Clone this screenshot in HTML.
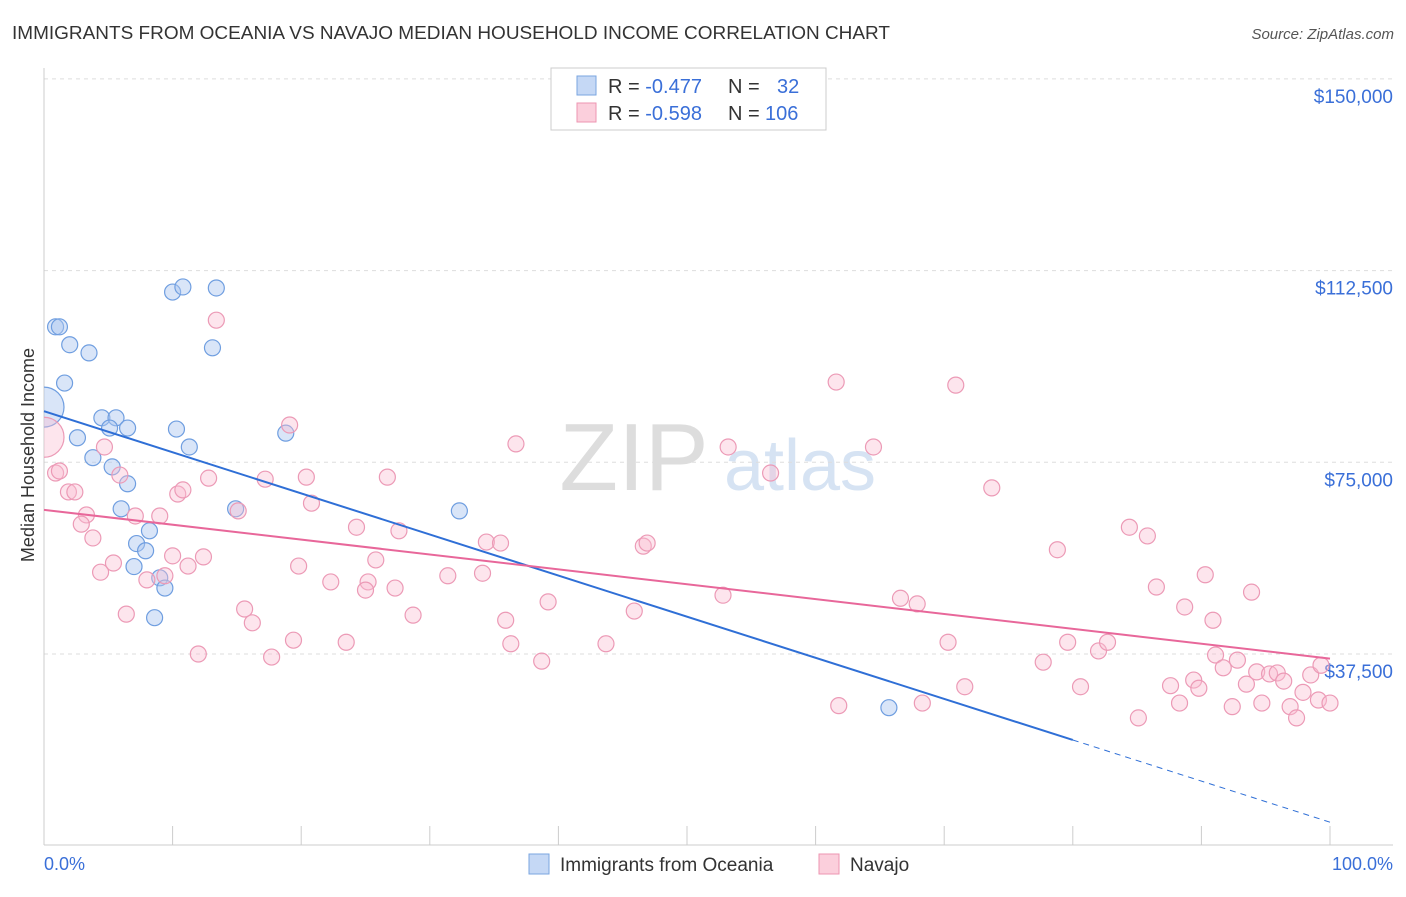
<!DOCTYPE html>
<html><head><meta charset="utf-8"><style>
body{margin:0;background:#fff;font-family:"Liberation Sans",sans-serif;}
svg text{font-family:"Liberation Sans",sans-serif;}
</style></head><body>
<svg id="c" width="1406" height="892">
<defs><clipPath id="pc"><rect x="44" y="60" width="1360" height="786"/></clipPath></defs>
<text x="12" y="39" font-size="18" fill="#333" textLength="878" lengthAdjust="spacingAndGlyphs">IMMIGRANTS FROM OCEANIA VS NAVAJO MEDIAN HOUSEHOLD INCOME CORRELATION CHART</text>
<text x="1394" y="39" font-size="15" fill="#555" font-style="italic" text-anchor="end">Source: ZipAtlas.com</text>
<text x="634" y="490" font-size="96" fill="#ddd" font-family="Liberation Serif" text-anchor="middle">ZIP</text>
<text x="800" y="490" font-size="72" fill="#d6e3f3" text-anchor="middle">atlas</text>
<text transform="translate(34,455) rotate(-90)" font-size="18" fill="#333" text-anchor="middle">Median Household Income</text>
<g id="grid"></g><g id="pts" clip-path="url(#pc)"></g><g id="lines"></g>
<g>
<rect x="551" y="68" width="275" height="62" fill="#fff" stroke="#ccc"/>
<rect x="577" y="76" width="19" height="19" fill="#c5d8f5" stroke="#7aa6e0"/>
<rect x="577" y="103" width="19" height="19" fill="#fbcfdc" stroke="#ee95b2"/>
<text x="608" y="93" font-size="20" fill="#333">R = <tspan fill="#3a6fd8">-0.477</tspan><tspan x="728">N = </tspan><tspan x="777" fill="#3a6fd8">32</tspan></text>
<text x="608" y="120" font-size="20" fill="#333">R = <tspan fill="#3a6fd8">-0.598</tspan><tspan x="728">N = </tspan><tspan x="765" fill="#3a6fd8">106</tspan></text>
</g>
<g>
<rect x="529" y="854" width="20" height="20" fill="#c5d8f5" stroke="#7aa6e0"/>
<text x="560" y="871" font-size="19" fill="#333">Immigrants from Oceania</text>
<rect x="819" y="854" width="20" height="20" fill="#fbcfdc" stroke="#ee95b2"/>
<text x="850" y="871" font-size="19" fill="#333">Navajo</text>
</g>
</svg>
<script>
const yTicks=[37500,75000,112500,150000];
const yTickLabels=["$37,500","$75,000","$112,500","$150,000"];
const xTickLabels=["0.0%","100.0%"];
const blueX=[0.9,1.2,2.0,3.5,1.6,0,4.5,5.6,5.1,6.5,2.6,3.8,5.3,6.5,6.0,7.2,7.9,7.0,9.0,9.4,8.6,8.2,10.0,10.8,13.4,13.1,10.3,11.3,18.8,14.9,32.3,65.7];
const blueY=[101.5,101.5,98.0,96.4,90.5,85.8,83.7,83.7,81.7,81.7,79.8,75.9,74.1,70.8,65.9,59.1,57.7,54.6,52.4,50.4,44.6,61.6,108.3,109.3,109.1,97.4,81.5,78.0,80.7,65.9,65.5,27.0];
const pinkX=[0,0.9,1.2,1.9,2.4,3.3,2.9,3.8,4.4,4.7,5.4,5.9,6.4,7.1,8.0,9.0,9.4,10.0,10.4,10.8,11.2,12.0,12.4,12.8,13.4,15.1,15.6,16.2,17.2,17.7,19.1,19.4,19.8,20.4,20.8,22.3,23.5,24.3,25.2,25.0,25.8,26.7,27.3,27.6,28.7,31.4,34.1,34.4,35.5,35.9,36.3,36.7,38.7,39.2,43.7,45.9,46.6,46.9,52.8,53.2,56.5,61.6,61.8,64.5,66.6,67.9,68.3,70.3,70.9,71.6,73.7,77.7,78.8,79.6,80.6,82.0,82.7,84.4,85.1,85.8,86.5,87.6,88.3,88.7,89.4,89.8,90.3,90.9,91.1,91.7,92.4,92.8,93.5,93.9,94.3,94.7,95.3,95.9,96.4,96.9,97.4,97.9,98.5,99.1,99.3,100];
const pinkY=[79.9,72.9,73.3,69.2,69.2,64.7,62.9,60.2,53.5,78.0,55.3,72.5,45.3,64.5,52.0,64.5,52.8,56.7,68.8,69.6,54.7,37.5,56.5,71.9,102.8,65.5,46.3,43.6,71.7,36.9,82.3,40.2,54.7,72.1,67.0,51.6,39.8,62.3,51.6,50.0,55.9,72.1,50.4,61.6,45.1,52.8,53.3,59.4,59.2,44.1,39.5,78.6,36.1,47.7,39.5,45.9,58.6,59.2,49.0,78.0,72.9,90.7,27.4,78.0,48.4,47.3,27.9,39.8,90.1,31.1,70.0,35.9,57.9,39.8,31.1,38.1,39.8,62.3,25.0,60.6,50.6,31.3,27.9,46.7,32.4,30.8,53.0,44.1,37.3,34.8,27.2,36.3,31.6,49.6,34.0,27.9,33.6,33.8,32.2,27.2,25.0,30.0,33.4,28.5,35.3,27.9];
const blueFit=[85.0,4.6];
const pinkFit=[65.7,36.6];
const NS="http://www.w3.org/2000/svg";
const X=v=>44+v*12.86;
function Yk(k){return 845.7-k*191.7/37.5;}
function mk(t,a,p){const e=document.createElementNS(NS,t);for(const k in a)e.setAttribute(k,a[k]);p.appendChild(e);return e;}
const g=document.getElementById('grid');
yTicks.forEach((t,i)=>{const y=Yk(t/1000);
const l=mk('line',{x1:44,x2:1393,y1:y,y2:y,stroke:'#ddd','stroke-dasharray':'4,4'},g);


const tx=mk('text',{x:1393,y:y+24,'font-size':19,fill:'#3a6fd8','text-anchor':'end'},g);tx.textContent=yTickLabels[i];

});
mk('line',{x1:44,x2:44,y1:68,y2:845,stroke:'#ccc'},g);
mk('line',{x1:44,x2:1393,y1:845,y2:845,stroke:'#ccc'},g);
for(let i=0;i<=10;i++){const t=mk('line',{x1:X(i*10),x2:X(i*10),y1:826,y2:845,stroke:'#ccc'},g);

}
[[0,'start',44],[1,'end',1393]].forEach(([i,a,x])=>{const t=mk('text',{x:x,y:870,'font-size':18,fill:'#3a6fd8','text-anchor':a},g);t.textContent=xTickLabels[i];

});
const p=document.getElementById('pts');
blueX.forEach((x,i)=>{const c=mk('circle',{cx:X(x),cy:Yk(blueY[i]),r:i==5?20:8,fill:'rgba(170,198,240,0.45)',stroke:'#6f9ee0','stroke-width':1.2},p);

});
pinkX.forEach((x,i)=>{const c=mk('circle',{cx:X(x),cy:Yk(pinkY[i]),r:i==0?20:8,fill:'rgba(250,190,210,0.4)',stroke:'#ec9ab6','stroke-width':1.2},p);

});
const L=document.getElementById('lines');
const bAt=x=>blueFit[0]+(blueFit[1]-blueFit[0])*x/100;
let l=mk('line',{x1:X(0),y1:Yk(bAt(0)),x2:X(80),y2:Yk(bAt(80)),stroke:'#2f6fd6','stroke-width':2},L);


l=mk('line',{x1:X(80),y1:Yk(bAt(80)),x2:X(100),y2:Yk(bAt(100)),stroke:'#2f6fd6','stroke-width':1,'stroke-dasharray':'6,5'},L);


l=mk('line',{x1:X(0),y1:Yk(pinkFit[0]),x2:X(100),y2:Yk(pinkFit[1]),stroke:'#e8679a','stroke-width':2},L);


</script>
</body></html>
